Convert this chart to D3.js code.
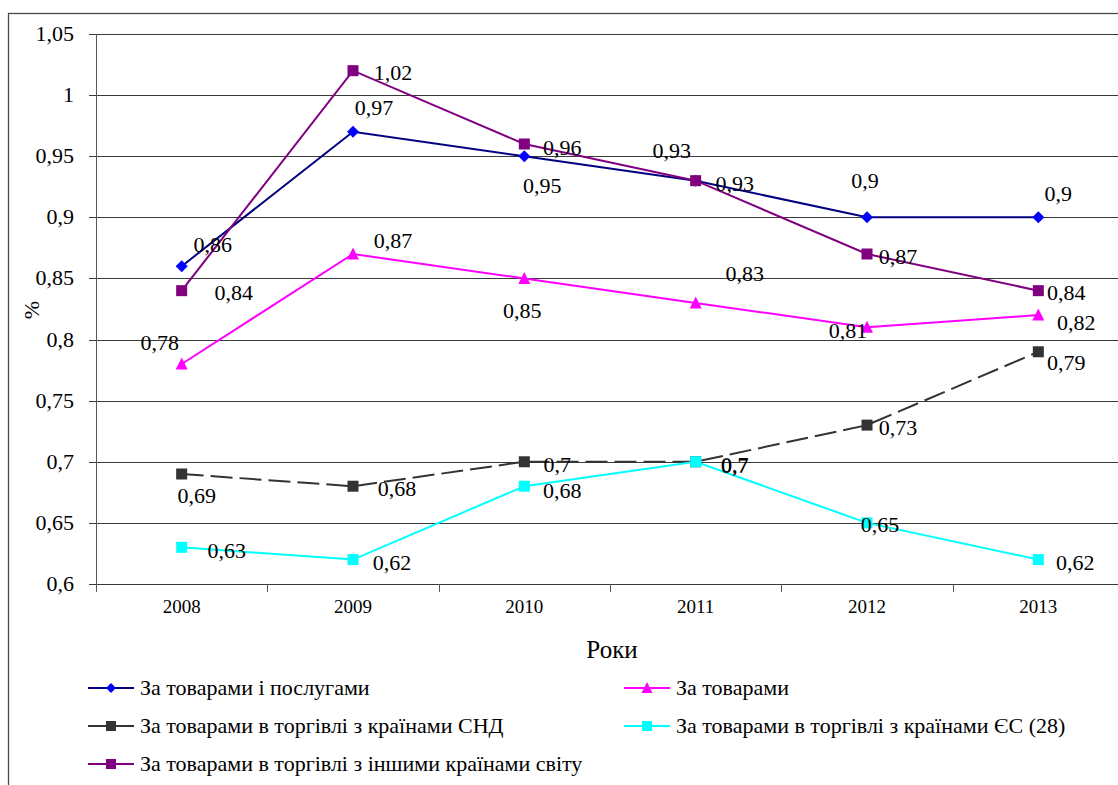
<!DOCTYPE html>
<html>
<head>
<meta charset="utf-8">
<script src="https://cdn.jsdelivr.net/npm/d3@7"></script>
<style>
  html,body{margin:0;padding:0;background:#fff;}
  svg{display:block;}
</style>
</head>
<body>
<svg id="chart" width="1118" height="785" font-family="Liberation Serif"></svg>
<script>
/* data */
var years=['2008','2009','2010','2011','2012','2013'];
var yTicks=[0.6,0.65,0.7,0.75,0.8,0.85,0.9,0.95,1,1.05];

var sGoodsServices=[0.86,0.97,0.95,0.93,0.9,0.9];
var sGoods=[0.78,0.87,0.85,0.83,0.81,0.82];
var sCIS=[0.69,0.68,0.7,0.7,0.73,0.79];
var sEU=[0.63,0.62,0.68,0.7,0.65,0.62];
var sOther=[0.84,1.02,0.96,0.93,0.87,0.84];

var seriesNames=['За товарами і послугами','За товарами','За товарами в торгівлі з країнами СНД',
  'За товарами в торгівлі з країнами ЄС (28)','За товарами в торгівлі з іншими країнами світу'];

/* label offsets (layout only) */
var labelOff=[
  [[31,-22],[21,-25],[18,29],[-24,-31],[-2,-37],[20,-24]],
  [[-22,-22],[40,-14],[-2,32],[49,-30],[-19,3],[38,7]],
  [[15,21],[44,2],[33,2],[39,3],[31,2],[28,10]],
  [[45,3],[39,2],[38,4],[39,2],[13,1],[37,2]],
  [[52,1],[40,1],[38,3],[39,2],[31,2],[28,1]]
];

var styles=[
  {line:'#000080',fill:'#0000ff',shape:'diamond',dash:null},
  {line:'#ff00ff',fill:'#ff00ff',shape:'triangle',dash:null},
  {line:'#333333',fill:'#333333',shape:'square',dash:'22,7'},
  {line:'#00ffff',fill:'#00ffff',shape:'square',dash:null},
  {line:'#800080',fill:'#800080',shape:'square',dash:null}
];

var allSeries=[sGoodsServices,sGoods,sCIS,sEU,sOther];
var FONT='Liberation Serif';

var svg=d3.select('#chart');

// outer frame
svg.append('rect').attr('x',8.5).attr('y',13.5).attr('width',1200).attr('height',900)
  .attr('fill','none').attr('stroke','#4a4a4a').attr('stroke-width',1.3);

var L=96, R=1124, T=34, B=584;
var x=d3.scaleBand().domain(years).range([L,R]);
var y=d3.scaleLinear().domain([0.6,1.05]).range([B,T]);
var fmt=function(v){return String(v).replace('.',',');};

// gridlines
svg.append('g').selectAll('line').data(yTicks).join('line')
  .attr('x1',L-7).attr('x2',R).attr('y1',function(d){return Math.round(y(d))+0.5;}).attr('y2',function(d){return Math.round(y(d))+0.5;})
  .attr('stroke','#3a3a3a').attr('stroke-width',1);

// y axis
svg.append('line').attr('x1',L+0.5).attr('x2',L+0.5).attr('y1',T).attr('y2',B)
  .attr('stroke','#555').attr('stroke-width',1);
svg.append('g').selectAll('text').data(yTicks).join('text')
  .attr('x',74).attr('y',function(d){return y(d)+7;}).attr('text-anchor','end')
  .attr('font-family',FONT).attr('font-size',22).attr('fill','#000').text(fmt);

// x axis ticks
var xTickPos=years.map(function(d){return x(d);}).concat([R]);
svg.append('g').selectAll('line').data(xTickPos).join('line')
  .attr('x1',function(d){return Math.round(d)+0.5;}).attr('x2',function(d){return Math.round(d)+0.5;})
  .attr('y1',B).attr('y2',B+8).attr('stroke','#555').attr('stroke-width',1);
svg.append('g').selectAll('text').data(years).join('text')
  .attr('x',function(d){return x(d)+x.bandwidth()/2;}).attr('y',B+29).attr('text-anchor','middle')
  .attr('font-family',FONT).attr('font-size',19).attr('fill','#000').text(function(d){return d;});

// axis titles
svg.append('text').attr('x',612).attr('y',658).attr('text-anchor','middle')
  .attr('font-family',FONT).attr('font-size',25).attr('fill','#000').text('Роки');
svg.append('text').attr('transform','translate(39,310) rotate(-90)').attr('text-anchor','middle')
  .attr('font-family',FONT).attr('font-size',22).attr('fill','#000').text('%');

function marker(g,shape,cx,cy,fill,sz){
  if(shape==='diamond'){
    var r=sz/2+0.5;
    g.append('path').attr('d','M'+cx+','+(cy-r)+'L'+(cx+r)+','+cy+'L'+cx+','+(cy+r)+'L'+(cx-r)+','+cy+'Z').attr('fill',fill);
  }else if(shape==='triangle'){
    var h=sz;
    g.append('path').attr('d','M'+cx+','+(cy-h/2-1)+'L'+(cx+h/2+0.5)+','+(cy+h/2)+'L'+(cx-h/2-0.5)+','+(cy+h/2)+'Z').attr('fill',fill);
  }else{
    g.append('rect').attr('x',cx-sz/2).attr('y',cy-sz/2).attr('width',sz).attr('height',sz).attr('fill',fill);
  }
}

var cx=function(i){return x(years[i])+x.bandwidth()/2;};
var line=d3.line().x(function(d,i){return cx(i);}).y(function(d){return y(d);});

var plot=svg.append('g');
allSeries.forEach(function(s,si){
  var st=styles[si];
  var g=plot.append('g');
  g.append('path').datum(s).attr('d',line).attr('fill','none')
    .attr('stroke',st.line).attr('stroke-width',2).attr('stroke-dasharray',st.dash);
  s.forEach(function(v,i){marker(g,st.shape,cx(i),y(v),st.fill,11);});
});

// data labels
allSeries.forEach(function(s,si){
  s.forEach(function(v,i){
    var o=labelOff[si][i];
    svg.append('text').attr('x',cx(i)+o[0]).attr('y',y(v)+o[1]+8).attr('text-anchor','middle')
      .attr('font-family',FONT).attr('font-size',22).attr('fill','#000').text(fmt(v));
  });
});

// legend
var legPos=[[88,688],[624,688],[88,726],[624,726],[88,764]];
seriesNames.forEach(function(n,si){
  var st=styles[si], p=legPos[si];
  var g=svg.append('g');
  g.append('line').attr('x1',p[0]).attr('x2',p[0]+46).attr('y1',p[1]).attr('y2',p[1])
    .attr('stroke',st.line).attr('stroke-width',2);
  marker(g,st.shape,p[0]+23,p[1],st.fill,si===0?9:10);
  g.append('text').attr('x',p[0]+52).attr('y',p[1]+7)
    .attr('font-family',FONT).attr('font-size',22).attr('fill','#000').text(n);
});
</script>
</body>
</html>
